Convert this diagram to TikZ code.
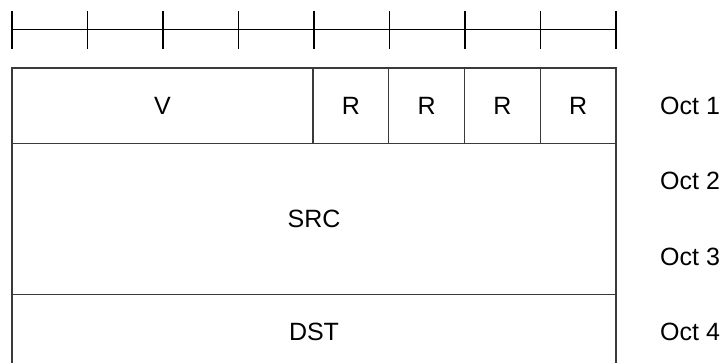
\documentclass[tikz,border=0pt]{standalone}
\usepackage{fontspec}
\setmainfont{Liberation Sans}
\definecolor{boxgray}{HTML}{3A3A3A}
\newcommand{\lblfont}{\fontsize{25}{29}\selectfont}
\begin{document}
\begin{tikzpicture}[x=1pt,y=1pt,
  field/.style={draw=boxgray, line width=1.1pt, inner sep=0pt, outer sep=0pt, anchor=north west, font=\lblfont},
  octlabel/.style={anchor=west, inner sep=0pt, font=\lblfont},
  tick/.style={line width=1.5pt, black},
  rulerline/.style={line width=1pt, black}]
\useasboundingbox (0,0) rectangle (726,-363);
\clip (0,0) rectangle (726,-363);
% ruler
\coordinate (r0) at (12,-29.3);
\coordinate (r8) at (616,-29.3);
\draw[rulerline] (r0) -- (r8);
\foreach \k in {0,...,8} {
  \coordinate (t\k) at ({12+\k*75.5},-11);
  \coordinate (b\k) at ({12+\k*75.5},-49);
  \draw[tick] (t\k) -- (b\k);
}
% fields
\node[field, minimum width=301pt, minimum height=75.5pt] (V) at (12,-68) {V};
\node[field, minimum width=75.75pt, minimum height=75.5pt] (R1) at (313,-68) {R};
\node[field, minimum width=75.75pt, minimum height=75.5pt] (R2) at (388.75,-68) {R};
\node[field, minimum width=75.75pt, minimum height=75.5pt] (R3) at (464.5,-68) {R};
\node[field, minimum width=75.75pt, minimum height=75.5pt] (R4) at (540.25,-68) {R};
\node[field, minimum width=604pt, minimum height=151pt] (SRC) at (12,-143.5) {SRC};
\node[field, minimum width=604pt, minimum height=75.5pt] (DST) at (12,-294.5) {DST};
% octet labels
\node[octlabel] (o1) at (660,-105.5) {Oct 1};
\node[octlabel] (o2) at (660,-181) {Oct 2};
\node[octlabel] (o3) at (660,-256.5) {Oct 3};
\node[octlabel] (o4) at (660,-332) {Oct 4};
\end{tikzpicture}
\end{document}
